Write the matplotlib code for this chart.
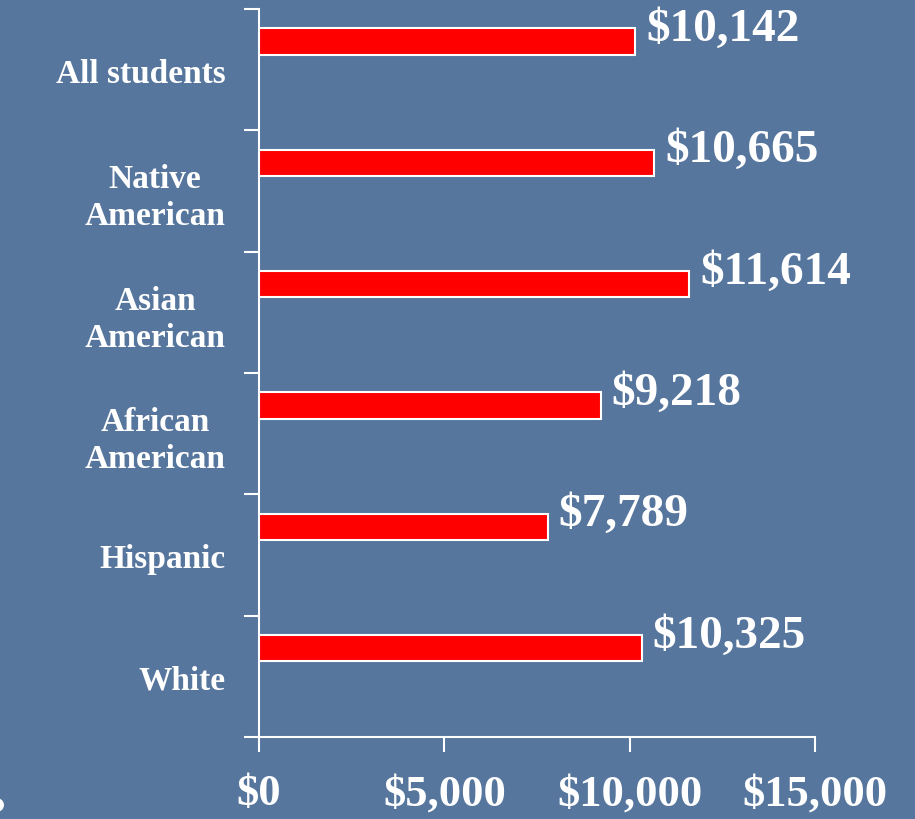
import matplotlib
matplotlib.use("Agg")
import matplotlib.pyplot as plt
from matplotlib.patches import Circle

categories = ["All students", "Native\nAmerican", "Asian\nAmerican",
              "African\nAmerican", "Hispanic", "White"]
values = [10142, 10665, 11614, 9218, 7789, 10325]
value_labels = ["$10,142", "$10,665", "$11,614", "$9,218", "$7,789", "$10,325"]
xticks = [0, 5000, 10000, 15000]
xtick_labels = ["$0", "$5,000", "$10,000", "$15,000"]

BG = "#56769e"
FONT = ["Liberation Serif", "DejaVu Serif"]

fig = plt.figure(figsize=(9.15, 8.2), dpi=100, facecolor=BG)
ax = fig.add_axes([259/915, 1-738/820, 556/915, 728/820])
ax.set_facecolor(BG)

n = len(categories)
pos = list(range(n))
offset = -0.232
bar_pos = [p + offset for p in pos]
ax.barh(bar_pos, values, height=0.215, color="#ff0000", edgecolor="white",
        linewidth=1.5, zorder=3)

for y, v, lab in zip(bar_pos, values, value_labels):
    ax.annotate(lab, (v, y), xytext=(8, 9), textcoords="offset points",
                ha="left", va="center", color="white", fontsize=34,
                fontweight="bold", family=FONT, annotation_clip=False)

ax.set_xlim(0, 15000)
ax.set_ylim(n - 0.5, -0.5)

ax.set_yticks(pos)
ax.set_yticklabels(categories, multialignment="center", linespacing=1.25)
ax.set_yticks([p - 0.5 for p in range(n + 1)], minor=True)
ax.tick_params(axis="y", which="major", length=0, pad=24)
ax.tick_params(axis="y", which="minor", length=11, width=1.5, color="white",
               direction="out")
for t in ax.get_yticklabels():
    t.set_fontsize(24)
    t.set_fontweight("bold")
    t.set_family(FONT)
    t.set_color("white")

ax.set_xticks(xticks)
ax.set_xticklabels(xtick_labels)
ax.tick_params(axis="x", which="major", length=11, width=1.5, color="white",
               direction="out", pad=15)
for t in ax.get_xticklabels():
    t.set_fontsize(32)
    t.set_fontweight("bold")
    t.set_family(FONT)
    t.set_color("white")

for s in ["top", "right"]:
    ax.spines[s].set_visible(False)
for s in ["left", "bottom"]:
    ax.spines[s].set_color("white")
    ax.spines[s].set_linewidth(1.5)

fig.patches.append(Circle((-4/915, 1-806/820), 8/915, transform=fig.transFigure,
                          facecolor="white", edgecolor="none"))

fig.savefig("out.png", dpi=100, facecolor=BG)
